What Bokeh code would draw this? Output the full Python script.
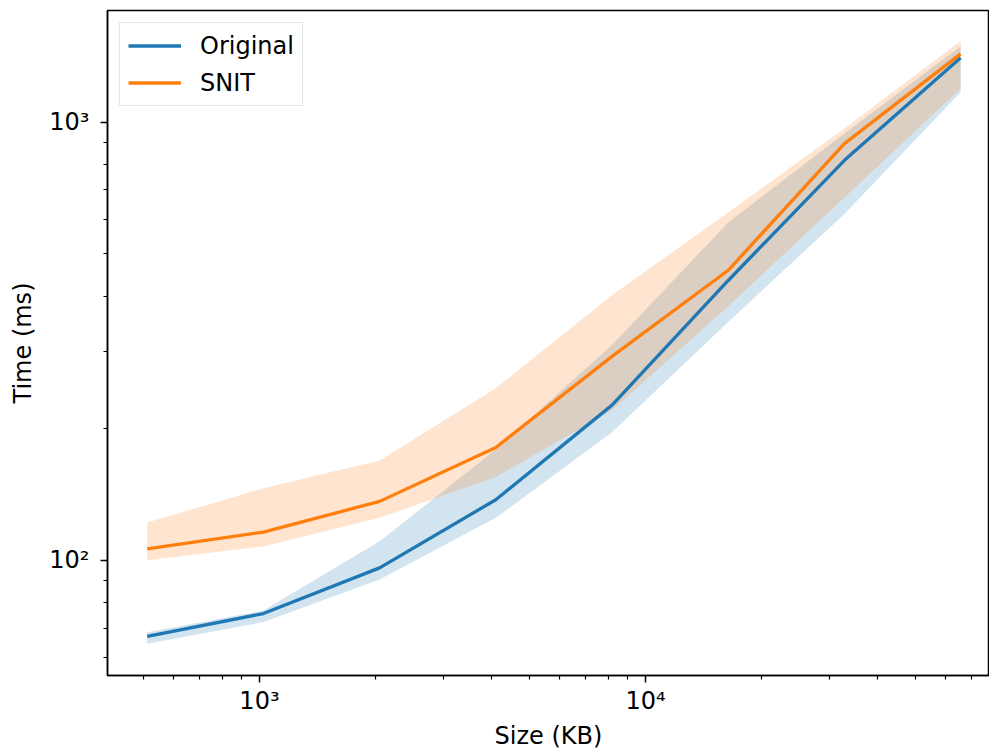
from bokeh.plotting import figure
from bokeh.models import FixedTicker, CustomJSTickFormatter, Legend, LegendItem, Range1d
from bokeh.embed import file_html
from bokeh.resources import INLINE

# ---- data ----
sizes = [512, 1024, 2048, 4096, 8192, 16384, 32768, 65536]

orig_mean = [67.1, 75.6, 96.1, 137.5, 226, 435, 818, 1402]
orig_low = [64.5, 72.3, 90.4, 125, 196, 350, 617, 1170]
orig_high = [68.5, 76.8, 110.5, 179, 310, 590, 942, 1490]

snit_mean = [106.2, 116, 136.3, 180.9, 292, 459, 893, 1431]
snit_low = [100, 107.6, 125, 155, 220, 380, 673, 1193]
snit_high = [122, 146, 169, 247, 403, 622, 967, 1530]

series_names = ["Original", "SNIT"]
x_major_ticks = [1000, 10000]
y_major_ticks = [100, 1000]
x_label = "Size (KB)"
y_label = "Time (ms)"

# ---- style ----
BLUE = "#1f77b4"
ORANGE = "#ff7f0e"
FONT = "DejaVu Sans"

x_minor = [m * 10 ** e for e in range(2, 5) for m in range(2, 10)]
y_minor = [m * 10 ** e for e in range(1, 4) for m in range(2, 10)]

p = figure(
    width=989, height=752,
    x_axis_type="log", y_axis_type="log",
    x_range=Range1d(404, 77850), y_range=Range1d(54.6, 1797),
    output_backend="svg", toolbar_location=None,
    min_border_left=107, min_border_right=0, min_border_top=10, min_border_bottom=76,
)
p.xgrid.visible = False
p.ygrid.visible = False
p.outline_line_color = "black"
p.outline_line_width = 1.5
p.background_fill_color = "white"
p.border_fill_color = "white"

p.varea(x=sizes, y1=orig_low, y2=orig_high, fill_color=BLUE, fill_alpha=0.2)
p.varea(x=sizes, y1=snit_low, y2=snit_high, fill_color=ORANGE, fill_alpha=0.2)
l1 = p.line(sizes, orig_mean, line_color=BLUE, line_width=3.3)
l2 = p.line(sizes, snit_mean, line_color=ORANGE, line_width=3.3)

fmt_code = """
const sup = {"0":"\u2070","1":"\u00b9","2":"\u00b2","3":"\u00b3","4":"\u2074",
             "5":"\u2075","6":"\u2076","7":"\u2077","8":"\u2078","9":"\u2079","-":"\u207b"};
const e = Math.round(Math.log10(tick));
return "10" + String(e).split("").map(c => sup[c]).join("");
"""

p.xaxis.ticker = FixedTicker(ticks=x_major_ticks, minor_ticks=x_minor)
p.yaxis.ticker = FixedTicker(ticks=y_major_ticks, minor_ticks=y_minor)

for ax in (p.xaxis[0], p.yaxis[0]):
    ax.formatter = CustomJSTickFormatter(code=fmt_code)
    ax.major_label_text_font = FONT
    ax.major_label_text_font_size = "24px"
    ax.major_label_text_color = "black"
    ax.axis_label_text_font = FONT
    ax.axis_label_text_font_size = "24px"
    ax.axis_label_text_font_style = "normal"
    ax.axis_label_text_color = "black"
    ax.axis_line_color = "black"
    ax.axis_line_width = 1.5
    ax.major_tick_line_color = "black"
    ax.major_tick_line_width = 1.5
    ax.minor_tick_line_color = "black"
    ax.minor_tick_line_width = 1.2
    ax.major_tick_in = 0
    ax.major_tick_out = 7
    ax.minor_tick_in = 0
    ax.minor_tick_out = 4

p.xaxis.axis_label = x_label
p.yaxis.axis_label = y_label
p.xaxis.major_label_standoff = 4
p.xaxis.axis_label_standoff = 4
p.yaxis.major_label_standoff = 11
p.yaxis.axis_label_standoff = 9

legend = Legend(
    items=[LegendItem(label=series_names[0], renderers=[l1]),
           LegendItem(label=series_names[1], renderers=[l2])],
    location="top_left",
    label_text_font=FONT, label_text_font_size="24px", label_text_color="black",
    glyph_width=53, glyph_height=29, label_height=29, label_standoff=19,
    padding=8, spacing=8, margin=12,
    border_line_color="#cccccc", border_line_width=1.5,
    background_fill_color="white", background_fill_alpha=0.8,
)
p.add_layout(legend)

open("out.html", "w").write(file_html(p, INLINE))
